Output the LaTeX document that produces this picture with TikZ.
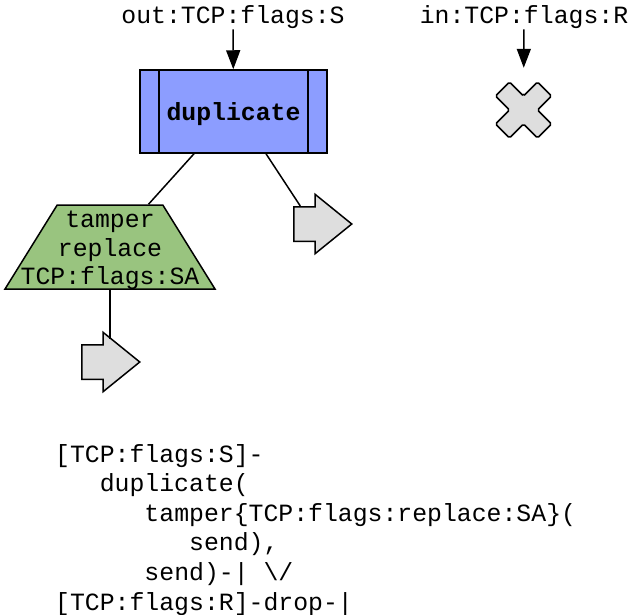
\documentclass[tikz,border=0pt]{standalone}
\usepackage{fontspec}
\setmonofont{Liberation Mono}
\usetikzlibrary{arrows.meta,shapes.geometric,shapes.arrows,positioning,calc}
\definecolor{dupBlue}{RGB}{140,157,255}
\definecolor{tamperGreen}{RGB}{153,196,127}
\definecolor{actGray}{RGB}{222,222,222}
\tikzset{
  codefont/.style={font=\fontsize{24.8}{29.6}\selectfont\ttfamily},
  flow/.style={-{Triangle[length=19pt,width=14pt]}, line width=1.5pt},
  link/.style={line width=1.5pt}
}
\begin{document}
\begin{tikzpicture}[x=1pt, y=1pt,
    dupbox/.style={rectangle, draw=black, line width=1.5pt, fill=dupBlue,
                   minimum width=187pt, minimum height=83pt, inner sep=0pt, text depth=0pt,
                   font=\fontsize{24.8}{29.6}\selectfont\ttfamily\bfseries,
                   path picture={
                     \draw[line width=1.5pt] ([xshift=19pt]path picture bounding box.north west)
                       -- ([xshift=19pt]path picture bounding box.south west);
                     \draw[line width=1.5pt] ([xshift=-19pt]path picture bounding box.north east)
                       -- ([xshift=-19pt]path picture bounding box.south east);}},
    tamperbox/.style={trapezium, trapezium stretches=true, trapezium angle=63.7,
                      draw=black, line width=1.5pt, fill=tamperGreen,
                      minimum width=210pt, minimum height=84pt, inner sep=2pt},
    sendarrow/.style={single arrow, draw=black, line width=1.5pt, fill=actGray,
                      minimum height=58pt, minimum width=58pt, inner sep=0pt, inner ysep=16.5pt,
                      single arrow head extend=12.5pt, single arrow tip angle=78},
    dropx/.style={draw=black, line width=1.5pt, fill=actGray, rounded corners=1.5pt}]
  \useasboundingbox (0,0) rectangle (631,-614);
  % trigger labels
  \node[codefont, anchor=base, inner sep=1pt] (outlbl) at (233,-23) {out:TCP:flags:S};
  \node[codefont, anchor=base, inner sep=1pt] (inlbl)  at (524,-23) {in:TCP:flags:R};
  % action tree
  \node[dupbox] (dup) at (233.5,-111.5) {duplicate};
  \node[tamperbox, label={[font=\fontsize{24.8}{28.5}\selectfont\ttfamily, align=center,
                           inner sep=0pt, yshift=-3.5pt]center:tamper\\replace\\TCP:flags:SA}]
    (tamper) at (110,-247) {};
  \node[sendarrow, anchor=tail] (send1) at (293,-224) {};
  \node[sendarrow, anchor=tail] (send2) at (81,-362) {};
  \coordinate (send2in) at ($(send2.tip)+(141:37.3pt)$);
  \node[minimum size=56pt, inner sep=0pt] (drop) at (523.5,-110) {};
  \draw[dropx] (drop.center) ++(0pt,14pt)
    foreach \a in {0,-90,-180,-270} { -- ++(\a+45:19.8pt) -- ++(\a-45:19.8pt) -- ++(\a-135:19.8pt) } -- cycle;
  \draw[flow] (outlbl) -- (dup);
  \draw[flow, shorten >=14pt] (inlbl) -- (drop);
  \draw[link] ([xshift=-39.5pt]dup.south) -- (tamper);
  \draw[link] ([xshift=32.5pt]dup.south) -- (send1);
  \draw[link] (tamper.south) -- (tamper.south |- send2in);
  % strategy text
  \node[codefont, align=left, anchor=north west, inner sep=0pt] (code) at (55,-444)
    {[TCP:flags:S]-\\
     \hphantom{xxx}duplicate(\\
     \hphantom{xxxxxx}tamper\{TCP:flags:replace:SA\}(\\
     \hphantom{xxxxxxxxx}send),\\
     \hphantom{xxxxxx}send)-| \textbackslash/\\
     \relax[TCP:flags:R]-drop-|};
\end{tikzpicture}
\end{document}
